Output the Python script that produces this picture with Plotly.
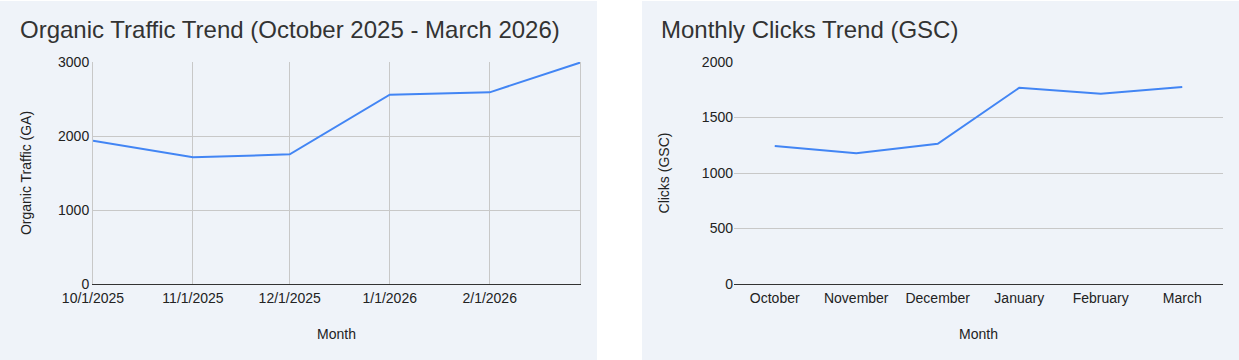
import plotly.graph_objects as go

# ---- data ----
ga_dates = ["2025-10-01", "2025-11-01", "2025-12-01", "2026-01-01", "2026-02-01", "2026-03-01"]
ga_traffic = [1937, 1712, 1752, 2558, 2590, 2992]
ga_tick_labels = ["10/1/2025", "11/1/2025", "12/1/2025", "1/1/2026", "2/1/2026", ""]

gsc_months = ["October", "November", "December", "January", "February", "March"]
gsc_clicks = [1243, 1177, 1264, 1768, 1714, 1775]

W, H = 1239, 360
FONT = "Arial, 'Liberation Sans', sans-serif"
BG = "#eff3f9"
LINE = "#4285f4"
GRID = "#c8c8c8"


def px_x(v):
    return v / W


def px_y(v):
    return 1 - v / H


fig = go.Figure()

fig.add_trace(go.Scatter(x=ga_dates, y=ga_traffic, mode="lines",
                         line=dict(color=LINE, width=2), xaxis="x", yaxis="y",
                         showlegend=False))
fig.add_trace(go.Scatter(x=gsc_months, y=gsc_clicks, mode="lines",
                         line=dict(color=LINE, width=2), xaxis="x2", yaxis="y2",
                         showlegend=False))

tickfont = dict(family=FONT, size=14, color="#222222")
titlefont = dict(family=FONT, size=14, color="#222222")

fig.update_layout(
    width=W, height=H,
    margin=dict(l=0, r=0, t=0, b=0),
    paper_bgcolor="white",
    plot_bgcolor="rgba(0,0,0,0)",
    template="none",
    font=dict(family=FONT),
    xaxis=dict(
        domain=[px_x(93), px_x(580)],
        type="date",
        range=[ga_dates[0], ga_dates[-1]],
        tickmode="array", tickvals=ga_dates, ticktext=ga_tick_labels,
        showgrid=True, gridcolor=GRID, gridwidth=1,
        ticks="", tickfont=tickfont, automargin=False, ticklabelstandoff=1,
        showline=True, linecolor="#333333", linewidth=1,
        zeroline=False,
        title=dict(text="Month", font=titlefont, standoff=24),
        anchor="y",
    ),
    yaxis=dict(
        domain=[px_y(284), px_y(62)],
        range=[0, 3000], dtick=1000, tick0=0,
        showgrid=True, gridcolor=GRID, gridwidth=1,
        ticks="", tickfont=tickfont, automargin=False,
        zeroline=True, zerolinecolor="#333333", zerolinewidth=1,
        showline=True, mirror=True, linecolor=GRID, linewidth=1,
        title=dict(text="Organic Traffic (GA)", font=titlefont, standoff=23),
        anchor="x",
    ),
    xaxis2=dict(
        domain=[px_x(734), px_x(1223)],
        type="category",
        range=[-0.5, 5.5],
        showgrid=False,
        ticks="", tickfont=tickfont, automargin=False, ticklabelstandoff=1,
        showline=True, linecolor="#333333", linewidth=1,
        zeroline=False,
        title=dict(text="Month", font=titlefont, standoff=24),
        anchor="y2",
    ),
    yaxis2=dict(
        domain=[px_y(284), px_y(62)],
        range=[0, 2000], dtick=500, tick0=0,
        showgrid=True, gridcolor=GRID, gridwidth=1,
        ticks="", tickfont=tickfont, automargin=False,
        zeroline=True, zerolinecolor="#333333", zerolinewidth=1,
        showline=False,
        title=dict(text="Clicks (GSC)", font=titlefont, standoff=28),
        anchor="x2",
    ),
    shapes=[
        dict(type="rect", xref="paper", yref="paper", x0=0, x1=px_x(597),
             y0=0, y1=px_y(1), fillcolor=BG, line=dict(width=0), layer="below"),
        dict(type="rect", xref="paper", yref="paper", x0=px_x(642), x1=1,
             y0=0, y1=px_y(1), fillcolor=BG, line=dict(width=0), layer="below"),
    ],
    annotations=[
        dict(text="Organic Traffic Trend (October 2025 - March 2026)",
             xref="paper", yref="paper", x=px_x(18), y=px_y(29),
             xanchor="left", yanchor="middle", showarrow=False,
             font=dict(family=FONT, size=24, color="#333333")),
        dict(text="Monthly Clicks Trend (GSC)",
             xref="paper", yref="paper", x=px_x(659), y=px_y(29),
             xanchor="left", yanchor="middle", showarrow=False,
             font=dict(family=FONT, size=24, color="#333333")),
    ],
)

fig.write_html("out.html",
               config={"displayModeBar": False},
               post_script="document.body.style.margin='0';document.body.style.overflow='hidden';")
